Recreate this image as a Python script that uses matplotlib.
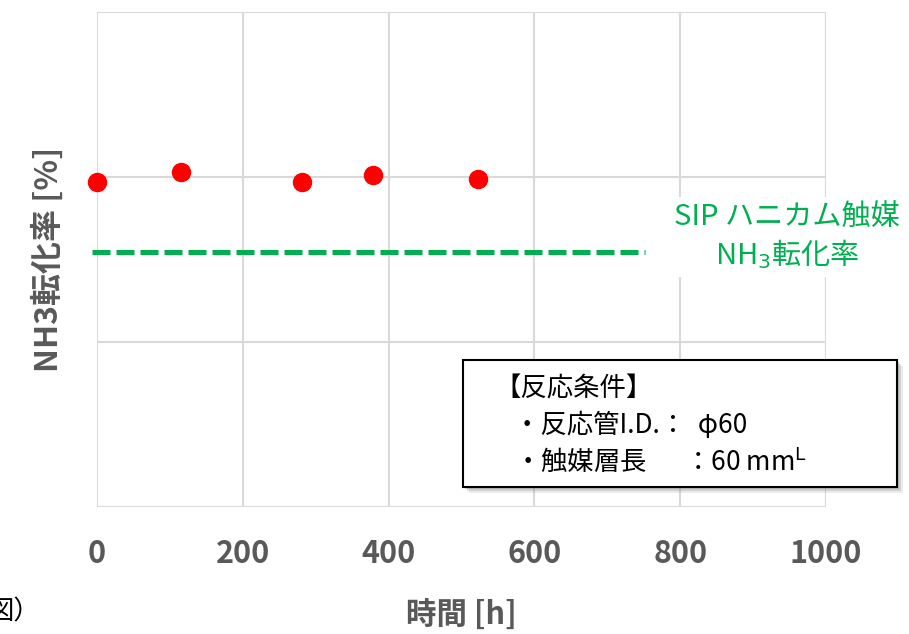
import matplotlib
matplotlib.use("Agg")
import matplotlib.pyplot as plt
from matplotlib.patches import Rectangle

plt.rcParams['font.family'] = ['Noto Sans CJK JP', 'DejaVu Sans']
plt.rcParams['mathtext.fontset'] = 'dejavusans'

# data
hours = [0, 115, 281, 379, 523]
conversion = [89.7, 90.3, 89.7, 90.1, 89.85]
sip_x = [-7, 752]
sip_y = [85.45, 85.45]
x_ticks = [0, 200, 400, 600, 800, 1000]
y_grid = [70, 80, 90, 100]

gray = '#595959'
green = '#00B050'

fig = plt.figure(figsize=(9.09, 6.34), dpi=100)
ax = fig.add_axes([97 / 909, 1 - 507 / 634, 729 / 909, 495 / 634])

ax.set_xlim(0, 1000)
ax.set_ylim(70, 100)
ax.set_xticks(x_ticks)
ax.set_yticks(y_grid)
ax.set_yticklabels([])
ax.tick_params(axis='both', length=0)
ax.tick_params(axis='x', pad=22, labelsize=22, labelcolor=gray)
for lab in ax.get_xticklabels():
    lab.set_fontweight('bold')
ax.grid(True, color='#D9D9D9', linewidth=1.5)
ax.set_axisbelow(True)
for s in ax.spines.values():
    s.set_visible(False)

ax.plot(sip_x, sip_y, color=green, linewidth=3.6, dashes=(3.6, 1.2),
        solid_capstyle='butt', dash_capstyle='butt', clip_on=False, zorder=3)
ax.plot(hours, conversion, 'o', color='red', markersize=13, clip_on=False,
        zorder=4)

ax.set_xlabel('時間 [h]', fontsize=22, fontweight='bold', color=gray,
              labelpad=22)
ax.set_ylabel('NH3転化率 [%]', fontsize=23, fontweight='bold', color=gray,
              labelpad=20)

fig.text(787 / 909, 1 - 237 / 634, 'SIP ハニカム触媒\nNH$_3$転化率',
         ha='center', va='center', fontsize=21, color=green,
         linespacing=1.2,
         bbox=dict(facecolor='white', edgecolor='none', pad=4))

# condition box with shadow
bx0, by0, bx1, by1 = 463, 360, 897, 487
for off, a in [(6, 0.15), (4, 0.25), (2, 0.35)]:
    fig.patches.append(Rectangle(((bx0 + off) / 909, 1 - (by1 + off) / 634),
                                 (bx1 - bx0) / 909, (by1 - by0) / 634,
                                 transform=fig.transFigure, facecolor='gray',
                                 edgecolor='none', alpha=a, zorder=5))
fig.patches.append(Rectangle((bx0 / 909, 1 - by1 / 634),
                             (bx1 - bx0) / 909, (by1 - by0) / 634,
                             transform=fig.transFigure, facecolor='white',
                             edgecolor='black', linewidth=1.5, zorder=6))
fig.text(494 / 909, 1 - 389 / 634, '【反応条件】', fontsize=19,
         va='center', ha='left', zorder=7)
fig.text(514 / 909, 1 - 425 / 634, '・反応管I.D.：  φ60', fontsize=19,
         va='center', ha='left', zorder=7)
fig.text(514 / 909, 1 - 461 / 634, '・触媒層長　  ：60 mm$^{\\mathrm{L}}$',
         fontsize=19, va='center', ha='left', zorder=7)

fig.text(-12 / 909, 1 - 612 / 634, '図）', fontsize=19, va='center',
         ha='left')

fig.savefig('out.png', dpi=100)
